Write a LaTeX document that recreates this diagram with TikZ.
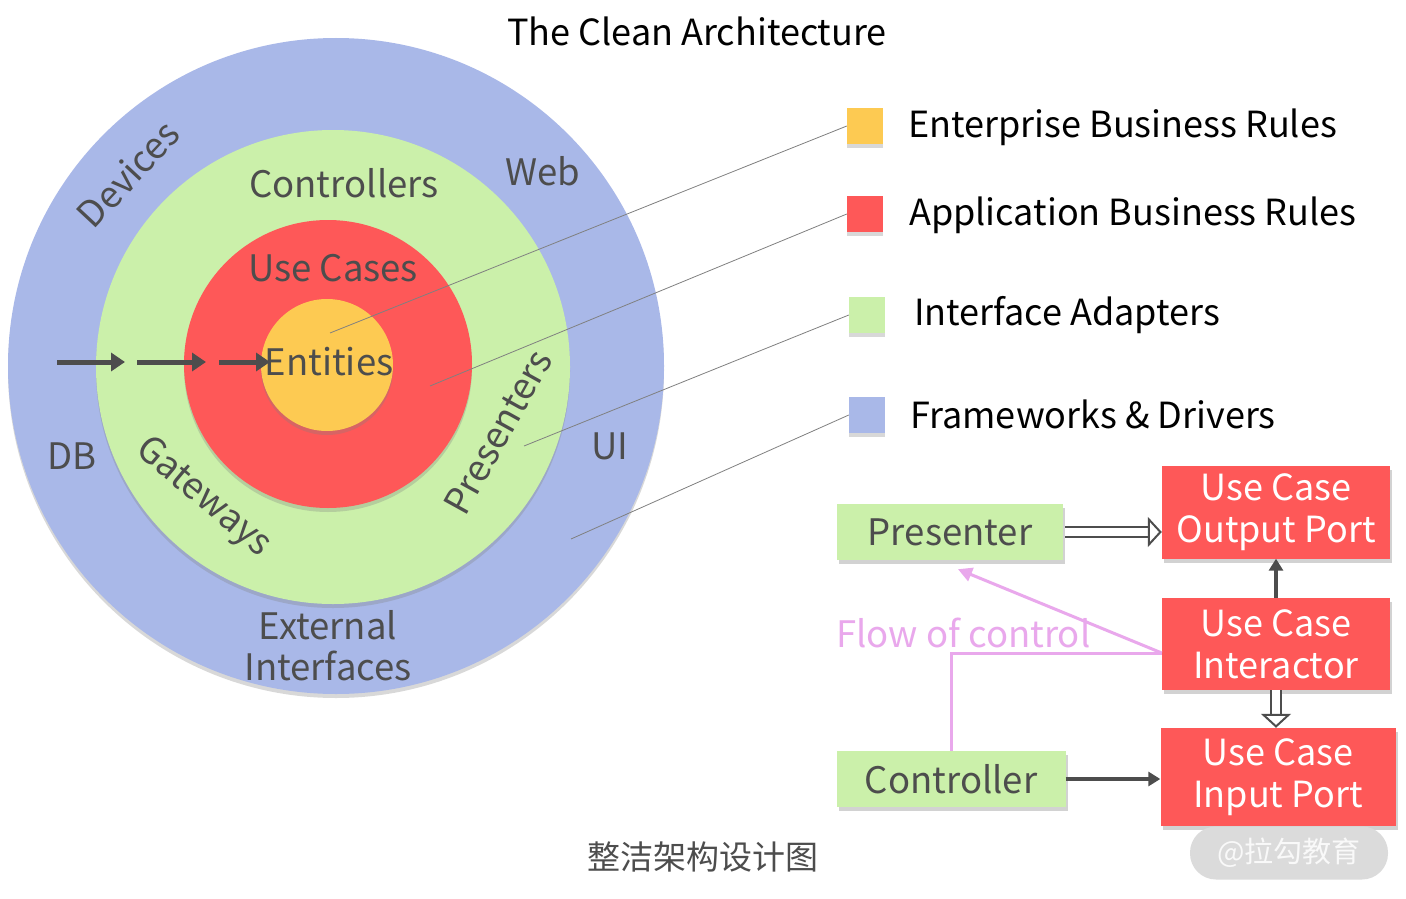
\documentclass[tikz,border=0pt]{standalone}
\usepackage{fontspec}
\setmainfont{Noto Sans CJK SC}
\usetikzlibrary{arrows.meta, shadows, positioning}

\definecolor{fwblue}{HTML}{A9B8E8}
\definecolor{iagreen}{HTML}{CBF0AA}
\definecolor{abred}{HTML}{FE5858}
\definecolor{ebyellow}{HTML}{FDCA52}
\definecolor{inkgray}{HTML}{4D4D4D}
\definecolor{flowpink}{HTML}{E9A8EC}

\tikzset{
	ring/.style = {circle, draw = none, inner sep = 0pt,
		drop shadow = {shadow xshift = 0pt, shadow yshift = -4pt, opacity = 0.3}},
	ringlabel/.style = {text = inkgray, font = \fontsize{36.5}{40}\selectfont, inner sep = 0pt},
	legendsq/.style = {minimum size = 36pt, inner sep = 0pt,
		drop shadow = {shadow xshift = 0pt, shadow yshift = -4pt, opacity = 0.3}},
	legendtext/.style = {anchor = base west, font = \fontsize{36}{40}\selectfont, inner sep = 0pt},
	leader/.style = {draw = gray, line width = 0.8pt},
	greenbox/.style = {fill = iagreen, text = inkgray, font = \fontsize{36.5}{40}\selectfont,
		minimum height = 56pt, inner sep = 0pt,
		drop shadow = {shadow xshift = 2pt, shadow yshift = -4pt, opacity = 0.35}},
	redbox/.style = {fill = abred, text = white, font = \fontsize{36}{42}\selectfont,
		align = center, inner sep = 0pt,
		drop shadow = {shadow xshift = 2pt, shadow yshift = -4pt, opacity = 0.35}},
	fatarrow/.style = {inkgray, line width = 5pt, -{Triangle[length = 14pt, width = 18pt]}},
	solidarrow/.style = {inkgray, line width = 3.5pt, -{Triangle[length = 12pt, width = 14pt]}},
	hollowarrow/.style = {draw = inkgray, line width = 2pt, double = white, double distance = 8pt,
		-{Triangle[open, length = 14pt, width = 30pt]}},
	flow/.style = {flowpink, line width = 3pt},
}

\begin{document}
\begin{tikzpicture}[x = 1pt, y = -1pt]

	\useasboundingbox [fill = white] (0, 0) rectangle (1406, 899);

	% Title

	\node [font = \fontsize{36}{40}\selectfont] (title) at (697, 31) {The Clean Architecture};

	% The rings

	\node [ring, fill = fwblue, minimum size = 656pt] (fw) at (336, 366) {};
	\node [ring, fill = iagreen, minimum size = 474pt] (ia) at (333, 367) {};
	\node [ring, fill = abred, minimum size = 288pt] (ab) at (328, 364) {};
	\node [ring, fill = ebyellow, minimum size = 132pt] (eb) at (327, 365) {};

	% Ring labels

	\node [ringlabel, rotate = 47] (devices) at (128, 174) {Devices};
	\node [ringlabel] (web) at (543, 171) {Web};
	\node [ringlabel] (controllers) at (344, 183) {Controllers};
	\node [ringlabel] (usecases) at (333, 268) {Use Cases};
	\node [ringlabel] (entities) at (329, 362) {Entities};
	\node [ringlabel] (db) at (72, 456) {DB};
	\node [ringlabel, rotate = -40] (gateways) at (203, 498) {Gateways};
	\node [ringlabel, rotate = 61] (presenters) at (498, 432) {Presenters};
	\node [ringlabel] (ui) at (610, 446) {UI};
	\node [ringlabel, align = center, font = \fontsize{36.5}{41}\selectfont] (external) at (328, 646) {External\\Interfaces};

	% Dependency arrows

	\coordinate (a0) at (57, 362);
	\coordinate (a1) at (125, 362);
	\coordinate (b0) at (137, 362);
	\coordinate (b1) at (206, 362);
	\coordinate (c0) at (219, 362);
	\coordinate (c1) at (270, 362);
	\draw [fatarrow] (a0) -- (a1);
	\draw [fatarrow] (b0) -- (b1);
	\draw [fatarrow] (c0) -- (c1);

	% Legend

	\node [legendsq, fill = ebyellow] (ebsq) at (865, 126) {};
	\node [legendsq, fill = abred] (absq) at (865, 214) {};
	\node [legendsq, fill = iagreen] (iasq) at (867, 315) {};
	\node [legendsq, fill = fwblue] (fwsq) at (867, 415) {};

	\node [legendtext] (ebtext) at (908, 137) {Enterprise Business Rules};
	\node [legendtext] (abtext) at (909, 225) {Application Business Rules};
	\node [legendtext] (iatext) at (914, 325) {Interface Adapters};
	\node [legendtext] (fwtext) at (910, 428) {Frameworks \& Drivers};

	\coordinate (ebpt) at (330, 333);
	\coordinate (abpt) at (430, 386);
	\coordinate (iapt) at (524, 446);
	\coordinate (fwpt) at (571, 539);
	\draw [leader] (ebpt) -- (ebsq.west);
	\draw [leader] (abpt) -- (absq.west);
	\draw [leader] (iapt) -- (iasq.west);
	\draw [leader] (fwpt) -- (fwsq.west);

	% Flow of control diagram

	\node [greenbox, minimum width = 226pt] (presenter) at (950, 532) {Presenter};
	\node [greenbox, minimum width = 229pt] (controller) at (951, 779) {Controller};
	\node [redbox, minimum width = 228pt, minimum height = 93pt] (outport) at (1276, 512) {Use Case\\Output Port};
	\node [redbox, minimum width = 228pt, minimum height = 92pt] (interactor) at (1276, 644) {Use Case\\Interactor};
	\node [redbox, minimum width = 235pt, minimum height = 98pt] (inport) at (1278, 777) {Use Case\\Input Port};

	\draw [hollowarrow] ([xshift = 2pt] presenter.east) -- (outport.west |- presenter.east);
	\draw [solidarrow] (interactor.north) -- (outport.south);
	\draw [hollowarrow] (interactor.south) -- (interactor.south |- inport.north);
	\draw [solidarrow] (controller.east) -- (inport.west |- controller.east);

	\draw [flow] (controller.north) |- ([yshift = -9pt] interactor.west);
	\draw [flow, -{Triangle[length = 14pt, width = 14pt]}] ([yshift = -9pt] interactor.west) -- ([xshift = 8pt, yshift = -9pt] presenter.south);
	\node [anchor = west, text = flowpink, font = \fontsize{36.5}{40}\selectfont, inner sep = 0pt] (flowtext) at (836, 633) {Flow of control};

	% Caption and watermark

	\node [text = inkgray, font = \fontsize{33}{38}\selectfont] (caption) at (703, 857) {整洁架构设计图};
	\node [fill = gray!28, rounded corners = 26pt, minimum width = 198pt, minimum height = 53pt,
		text = white!95!gray, font = \fontsize{29}{32}\selectfont] (mark) at (1289, 853) {@拉勾教育};

\end{tikzpicture}
\end{document}
